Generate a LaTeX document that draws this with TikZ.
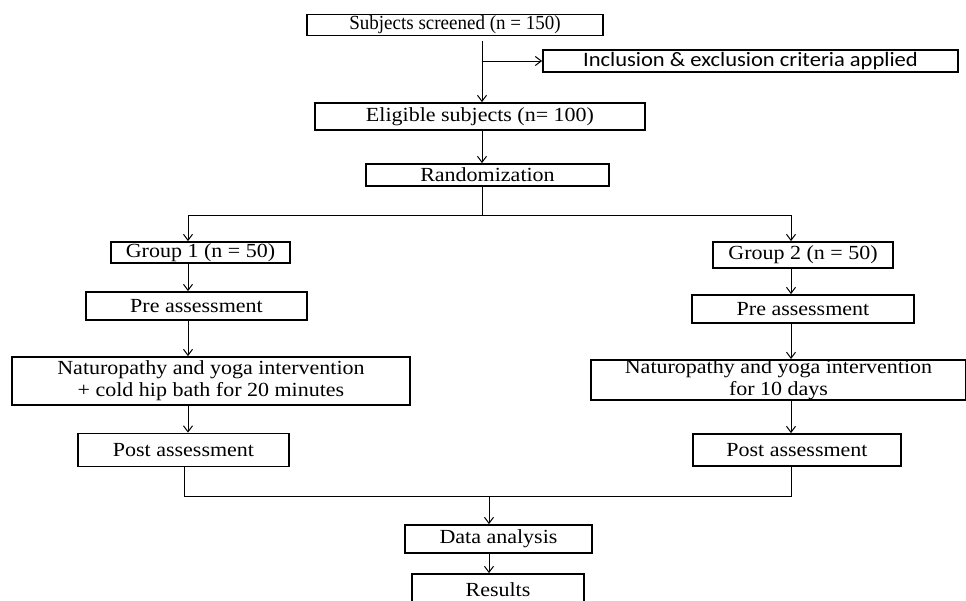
\documentclass[tikz,border=0pt]{standalone}
\usepackage{fontspec}
\setmainfont{Liberation Serif}[FakeStretch=1.1]
\newfontfamily\narrowserif{Liberation Serif}[FakeStretch=0.95]
\newfontfamily\critfont{Carlito}[FakeStretch=1.1]
\usetikzlibrary{positioning, arrows.meta, calc}
\tikzset{
  flowbox/.style={
    draw=black,
    line width=1.8pt,
    fill=white,
    rectangle,
    inner sep=0pt,
    align=center,
    font=\fontsize{20}{22}\selectfont
  },
  link/.style={
    draw=black,
    line width=1pt
  },
  arr/.style={
    link,
    -{Straight Barb[length=6pt, width=9pt]}
  }
}

\begin{document}
\begin{tikzpicture}[x=1pt, y=-1pt]
  \useasboundingbox (0,0) rectangle (966,600);

  % Screening and randomization
  \node[flowbox, minimum width=296, minimum height=21, font=\narrowserif\fontsize{20}{22}\selectfont] (screen) at (455,25) {Subjects screened (n = 150)};
  \node[flowbox, minimum width=415, minimum height=22, font=\critfont\fontsize{20.5}{22}\selectfont] (crit) at (750.5,61) {Inclusion \& exclusion criteria applied};
  \node[flowbox, minimum width=330, minimum height=27] (elig) at (480,116.5) {Eligible subjects (n= 100)};
  \node[flowbox, minimum width=243, minimum height=22] (rand) at (487.5,175) {Randomization};

  % Group 1
  \node[flowbox, minimum width=179, minimum height=21] (g1) at (200.5,252.5) {Group 1 (n = 50)};
  \node[flowbox, minimum width=221, minimum height=28] (pre1) at (196.5,306) {Pre assessment};
  \node[flowbox, minimum width=398, minimum height=48] (int1) at (211,381) {Naturopathy and yoga intervention\\+ cold hip bath for 20 minutes};
  \node[flowbox, minimum width=211, minimum height=33] (post1) at (183.5,450) {Post assessment};

  % Group 2
  \node[flowbox, minimum width=180, minimum height=26] (g2) at (803,255) {Group 2 (n = 50)};
  \node[flowbox, minimum width=222, minimum height=28] (pre2) at (803,309) {Pre assessment};
  \node[flowbox, minimum width=375, minimum height=40] (int2) at (778.5,380) {Naturopathy and yoga intervention\\for 10 days};
  \node[flowbox, minimum width=208, minimum height=32] (post2) at (797,450) {Post assessment};

  % Analysis
  \node[flowbox, minimum width=187, minimum height=28] (data) at (498.5,539) {Data analysis};
  \node[flowbox, minimum width=172, minimum height=31] (res) at (498,589.5) {Results};

  % Connector columns
  \coordinate (top) at (482,0);
  \coordinate (split) at (482,215);
  \coordinate (lcol) at (188,215);
  \coordinate (rcol) at (791,215);
  \coordinate (jl) at (184,496);
  \coordinate (jr) at (791,496);
  \coordinate (join) at (489,496);

  \draw[arr] ([yshift=-5pt]screen.south -| top) -- (elig.north -| top);
  \draw[arr] (crit.west -| top) -- (crit.west);
  \draw[arr] (elig.south -| top) -- (rand.north -| top);
  \draw[link] (rand.south -| split) -- (split);
  \draw[link] (lcol) -- (rcol);
  \draw[arr] (lcol) -- (g1.north -| lcol);
  \draw[arr] (rcol) -- (g2.north -| rcol);

  \draw[arr] (g1.south -| lcol) -- (pre1.north -| lcol);
  \draw[arr] (pre1.south -| lcol) -- (int1.north -| lcol);
  \draw[arr] (int1.south -| lcol) -- (post1.north -| lcol);
  \draw[arr] (g2.south -| rcol) -- (pre2.north -| rcol);
  \draw[arr] (pre2.south -| rcol) -- (int2.north -| rcol);
  \draw[arr] (int2.south -| rcol) -- (post2.north -| rcol);

  \draw[link] (post1.south -| jl) -- (jl) -- (jr) -- (post2.south -| jr);
  \draw[arr] (join) -- (data.north -| join);
  \draw[arr] (data.south -| join) -- (res.north -| join);
\end{tikzpicture}
\end{document}
